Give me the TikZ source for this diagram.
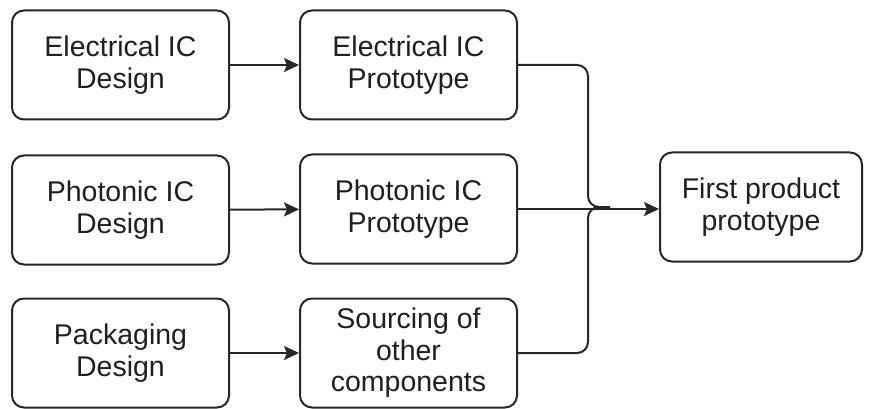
\documentclass[tikz,border=0pt]{standalone}
\usepackage{fontspec}
\setmainfont{Liberation Sans}
\usetikzlibrary{arrows.meta}
\begin{document}
\begin{tikzpicture}[x=1pt,y=-1pt,
  box/.style={draw=black!85, line width=2pt, rounded corners=12pt,
    minimum width=217pt, minimum height=109pt, align=center,
    font=\fontsize{28.5}{31.5}\selectfont, text=black!88, inner sep=0pt},
  conn/.style={draw=black!85, line width=2pt},
  arr/.style={conn, -{Stealth[length=15pt,width=14pt,inset=3pt]}}]
\useasboundingbox (0,0) rectangle (870,409);
% design column
\node[box] (ed) at (120.5,65) {Electrical IC\\Design};
\node[box] (pd) at (120.5,210) {Photonic IC\\Design};
\node[box] (kd) at (120.5,353) {Packaging\\Design};
% prototype column
\node[box] (ep) at (408.5,65) {Electrical IC\\Prototype};
\node[box] (pp) at (408.5,209) {Photonic IC\\Prototype};
\node[box] (sc) at (408.5,353) {Sourcing of\\other\\components};
% final product
\node[box, minimum width=202pt] (fp) at (761,207) {First product\\prototype};
% arrows between columns
\draw[arr] (ed) -- (ep);
\draw[arr] (pd) -- (pp);
\draw[arr] (kd) -- (sc);
% merge into the final product
\coordinate (m) at (588,0);
\draw[arr] (pp.east) -- (pp.east -| fp.west);
\draw[conn, rounded corners=11pt] (ep.east) -- (ep.east -| m) -- (m |- fp.west) -- ++(22,0);
\draw[conn, rounded corners=11pt] (sc.east) -- (sc.east -| m) -- (m |- fp.west) -- ++(22,0);
\end{tikzpicture}
\end{document}
